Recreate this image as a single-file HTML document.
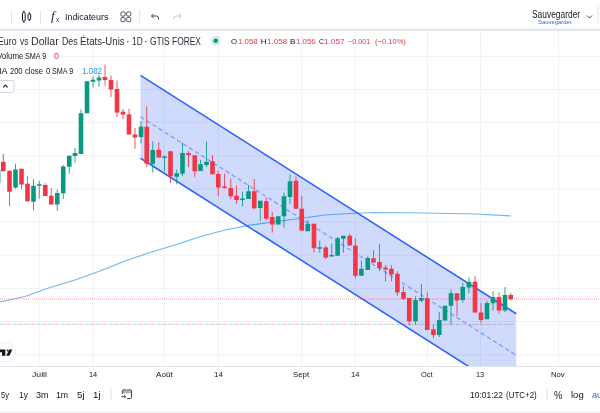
<!DOCTYPE html>
<html><head><meta charset="utf-8"><title>Chart</title>
<style>
html,body{margin:0;padding:0;background:#fff;}
body{width:600px;height:413px;overflow:hidden;position:relative;font-family:"Liberation Sans",sans-serif;color:#131722;}
.t{position:absolute;white-space:nowrap;line-height:1;}
svg{position:absolute;left:0;top:0;}
</style></head><body>
<svg width="600" height="413" viewBox="0 0 600 413">
<defs><clipPath id="cp"><rect x="0" y="31" width="600" height="335"/></clipPath></defs>
<rect x="0" y="0" width="600" height="413" fill="#fff"/>
<rect x="38.75" y="31" width="1" height="335" fill="#f1f2f4"/><rect x="92.5" y="31" width="1" height="335" fill="#f1f2f4"/><rect x="163.75" y="31" width="1" height="335" fill="#f1f2f4"/><rect x="217.75" y="31" width="1" height="335" fill="#f1f2f4"/><rect x="301.4" y="31" width="1" height="335" fill="#f1f2f4"/><rect x="354.7" y="31" width="1" height="335" fill="#f1f2f4"/><rect x="427" y="31" width="1" height="335" fill="#f1f2f4"/><rect x="480" y="31" width="1" height="335" fill="#f1f2f4"/><rect x="558" y="31" width="1" height="335" fill="#f1f2f4"/><rect x="0" y="55.80" width="600" height="1" fill="#f1f2f4"/><rect x="0" y="88.96" width="600" height="1" fill="#f1f2f4"/><rect x="0" y="122.12" width="600" height="1" fill="#f1f2f4"/><rect x="0" y="155.28" width="600" height="1" fill="#f1f2f4"/><rect x="0" y="188.44" width="600" height="1" fill="#f1f2f4"/><rect x="0" y="221.60" width="600" height="1" fill="#f1f2f4"/><rect x="0" y="254.76" width="600" height="1" fill="#f1f2f4"/><rect x="0" y="287.92" width="600" height="1" fill="#f1f2f4"/><rect x="0" y="321.08" width="600" height="1" fill="#f1f2f4"/><rect x="0" y="354.24" width="600" height="1" fill="#f1f2f4"/>
<g clip-path="url(#cp)">
<path d="M0,302 L25,296.5 L50,287.5 L75,280 L100,271 L125,261 L150,252.5 L175,245 L200,236.7 L225,230 L250,225.2 L275,221.6 L300,218.5 L325,215 L350,213.5 L375,212.5 L425,213 L475,214 L511,216" fill="none" stroke="#6ab8f5" stroke-width="1.2"/>
<polygon points="140.5,75.3 516.25,313.75095 516.25,396.70095000000003 140.5,158.25" fill="#2050f0" fill-opacity="0.21"/>
<line x1="140.5" y1="75.3" x2="516.25" y2="313.75095" stroke="#2962ff" stroke-width="1.55"/>
<line x1="140.5" y1="158.25" x2="516.25" y2="396.70095000000003" stroke="#2962ff" stroke-width="1.55"/>
<line x1="140.5" y1="116.8" x2="516.25" y2="355.25095" stroke="#2962ff" stroke-opacity="0.5" stroke-width="1.3" stroke-dasharray="4.3 2.9"/>
<line x1="0" y1="324.4" x2="514" y2="324.4" stroke="#089981" stroke-opacity="0.32" stroke-width="1" stroke-dasharray="5 7"/><line x1="6" y1="324.4" x2="514" y2="324.4" stroke="#f23645" stroke-opacity="0.32" stroke-width="1" stroke-dasharray="5 7"/>
<line x1="0" y1="299" x2="600" y2="299" stroke="#f23645" stroke-opacity="0.5" stroke-width="1" stroke-dasharray="1 1"/>
<rect x="0" y="170" width="1" height="13" fill="#089981" fill-opacity="0.4"/>
<rect x="-3.20" y="183.00" width="1" height="29.00" fill="#089981" fill-opacity="0.85"/>
<rect x="-5.00" y="186.00" width="4.6" height="13.00" fill="#089981"/>
<rect x="2.80" y="153.75" width="1" height="17.50" fill="#f23645" fill-opacity="0.85"/>
<rect x="1.00" y="161.75" width="4.6" height="9.50" fill="#f23645"/>
<rect x="9.00" y="170.75" width="1" height="35.50" fill="#f23645" fill-opacity="0.85"/>
<rect x="7.20" y="170.75" width="4.6" height="21.00" fill="#f23645"/>
<rect x="15.00" y="163.75" width="1" height="25.00" fill="#089981" fill-opacity="0.85"/>
<rect x="13.20" y="169.50" width="4.6" height="18.00" fill="#089981"/>
<rect x="21.00" y="168.75" width="1" height="20.50" fill="#f23645" fill-opacity="0.85"/>
<rect x="19.20" y="168.75" width="4.6" height="15.75" fill="#f23645"/>
<rect x="27.00" y="176.25" width="1" height="25.00" fill="#f23645" fill-opacity="0.85"/>
<rect x="25.20" y="183.75" width="4.6" height="17.50" fill="#f23645"/>
<rect x="33.00" y="179.25" width="1" height="31.25" fill="#089981" fill-opacity="0.85"/>
<rect x="31.20" y="185.75" width="4.6" height="16.00" fill="#089981"/>
<rect x="38.75" y="180.75" width="1" height="18.00" fill="#089981" fill-opacity="0.85"/>
<rect x="36.95" y="184.25" width="4.6" height="1.50" fill="#089981"/>
<rect x="44.75" y="183.25" width="1" height="12.75" fill="#f23645" fill-opacity="0.85"/>
<rect x="42.95" y="185.00" width="4.6" height="11.00" fill="#f23645"/>
<rect x="50.75" y="188.00" width="1" height="16.50" fill="#f23645" fill-opacity="0.85"/>
<rect x="48.95" y="195.75" width="4.6" height="8.75" fill="#f23645"/>
<rect x="56.75" y="189.50" width="1" height="21.25" fill="#089981" fill-opacity="0.85"/>
<rect x="54.95" y="193.00" width="4.6" height="11.50" fill="#089981"/>
<rect x="62.75" y="165.00" width="1" height="34.25" fill="#089981" fill-opacity="0.85"/>
<rect x="60.95" y="166.50" width="4.6" height="26.75" fill="#089981"/>
<rect x="68.75" y="155.75" width="1" height="18.00" fill="#089981" fill-opacity="0.85"/>
<rect x="66.95" y="155.75" width="4.6" height="11.00" fill="#089981"/>
<rect x="74.50" y="148.00" width="1" height="14.50" fill="#089981" fill-opacity="0.85"/>
<rect x="72.70" y="153.00" width="4.6" height="3.00" fill="#089981"/>
<rect x="80.50" y="109.50" width="1" height="44.50" fill="#089981" fill-opacity="0.85"/>
<rect x="78.70" y="113.25" width="4.6" height="40.75" fill="#089981"/>
<rect x="86.50" y="81.25" width="1" height="32.00" fill="#089981" fill-opacity="0.85"/>
<rect x="84.70" y="81.25" width="4.6" height="32.00" fill="#089981"/>
<rect x="92.50" y="76.25" width="1" height="11.25" fill="#089981" fill-opacity="0.85"/>
<rect x="90.70" y="79.75" width="4.6" height="2.00" fill="#089981"/>
<rect x="98.50" y="75.00" width="1" height="11.75" fill="#089981" fill-opacity="0.85"/>
<rect x="96.70" y="77.50" width="4.6" height="3.00" fill="#089981"/>
<rect x="104.50" y="64.50" width="1" height="21.25" fill="#f23645" fill-opacity="0.85"/>
<rect x="102.70" y="77.00" width="4.6" height="3.00" fill="#f23645"/>
<rect x="110.50" y="75.50" width="1" height="21.50" fill="#f23645" fill-opacity="0.85"/>
<rect x="108.70" y="80.00" width="4.6" height="9.50" fill="#f23645"/>
<rect x="116.50" y="80.50" width="1" height="36.50" fill="#f23645" fill-opacity="0.85"/>
<rect x="114.70" y="89.00" width="4.6" height="23.50" fill="#f23645"/>
<rect x="122.50" y="109.00" width="1" height="10.25" fill="#f23645" fill-opacity="0.85"/>
<rect x="120.70" y="111.75" width="4.6" height="2.75" fill="#f23645"/>
<rect x="128.50" y="108.75" width="1" height="25.75" fill="#f23645" fill-opacity="0.85"/>
<rect x="126.70" y="114.50" width="4.6" height="20.00" fill="#f23645"/>
<rect x="134.50" y="128.00" width="1" height="20.75" fill="#f23645" fill-opacity="0.85"/>
<rect x="132.70" y="134.50" width="4.6" height="3.00" fill="#f23645"/>
<rect x="140.50" y="121.00" width="1" height="22.50" fill="#089981" fill-opacity="0.85"/>
<rect x="138.70" y="126.75" width="4.6" height="10.25" fill="#089981"/>
<rect x="146.25" y="106.25" width="1" height="60.75" fill="#f23645" fill-opacity="0.85"/>
<rect x="144.45" y="126.75" width="4.6" height="37.00" fill="#f23645"/>
<rect x="152.25" y="141.25" width="1" height="31.25" fill="#089981" fill-opacity="0.85"/>
<rect x="150.45" y="150.00" width="4.6" height="13.75" fill="#089981"/>
<rect x="158.25" y="142.00" width="1" height="15.50" fill="#f23645" fill-opacity="0.85"/>
<rect x="156.45" y="149.75" width="4.6" height="7.75" fill="#f23645"/>
<rect x="164.00" y="155.50" width="1" height="15.75" fill="#089981" fill-opacity="0.85"/>
<rect x="162.20" y="156.50" width="4.6" height="1.50" fill="#089981"/>
<rect x="170.00" y="151.25" width="1" height="32.00" fill="#f23645" fill-opacity="0.85"/>
<rect x="168.20" y="151.25" width="4.6" height="25.00" fill="#f23645"/>
<rect x="176.25" y="169.50" width="1" height="14.75" fill="#089981" fill-opacity="0.85"/>
<rect x="174.45" y="173.25" width="4.6" height="3.50" fill="#089981"/>
<rect x="182.00" y="142.50" width="1" height="33.75" fill="#089981" fill-opacity="0.85"/>
<rect x="180.20" y="153.00" width="4.6" height="20.75" fill="#089981"/>
<rect x="188.00" y="150.75" width="1" height="16.25" fill="#f23645" fill-opacity="0.85"/>
<rect x="186.20" y="153.00" width="4.6" height="2.00" fill="#f23645"/>
<rect x="194.25" y="155.25" width="1" height="21.50" fill="#f23645" fill-opacity="0.85"/>
<rect x="192.45" y="155.25" width="4.6" height="16.00" fill="#f23645"/>
<rect x="200.00" y="160.00" width="1" height="11.00" fill="#089981" fill-opacity="0.85"/>
<rect x="198.20" y="164.25" width="4.6" height="6.75" fill="#089981"/>
<rect x="206.00" y="141.75" width="1" height="25.25" fill="#089981" fill-opacity="0.85"/>
<rect x="204.20" y="161.75" width="4.6" height="3.25" fill="#089981"/>
<rect x="212.00" y="155.00" width="1" height="19.25" fill="#f23645" fill-opacity="0.85"/>
<rect x="210.20" y="161.25" width="4.6" height="13.00" fill="#f23645"/>
<rect x="217.75" y="170.75" width="1" height="25.50" fill="#f23645" fill-opacity="0.85"/>
<rect x="215.95" y="174.00" width="4.6" height="13.50" fill="#f23645"/>
<rect x="224.00" y="173.75" width="1" height="15.00" fill="#f23645" fill-opacity="0.85"/>
<rect x="222.20" y="186.50" width="4.6" height="1.50" fill="#f23645"/>
<rect x="230.25" y="178.50" width="1" height="20.25" fill="#f23645" fill-opacity="0.85"/>
<rect x="228.45" y="188.00" width="4.6" height="8.25" fill="#f23645"/>
<rect x="236.00" y="185.50" width="1" height="18.25" fill="#f23645" fill-opacity="0.85"/>
<rect x="234.20" y="195.75" width="4.6" height="4.25" fill="#f23645"/>
<rect x="242.00" y="191.75" width="1" height="14.50" fill="#089981" fill-opacity="0.85"/>
<rect x="240.20" y="198.50" width="4.6" height="1.50" fill="#089981"/>
<rect x="248.00" y="185.00" width="1" height="14.00" fill="#089981" fill-opacity="0.85"/>
<rect x="246.20" y="191.25" width="4.6" height="7.75" fill="#089981"/>
<rect x="253.75" y="179.00" width="1" height="30.25" fill="#f23645" fill-opacity="0.85"/>
<rect x="251.95" y="191.25" width="4.6" height="17.00" fill="#f23645"/>
<rect x="259.75" y="200.75" width="1" height="20.50" fill="#089981" fill-opacity="0.85"/>
<rect x="257.95" y="200.75" width="4.6" height="7.25" fill="#089981"/>
<rect x="265.75" y="197.50" width="1" height="23.25" fill="#f23645" fill-opacity="0.85"/>
<rect x="263.95" y="201.25" width="4.6" height="17.50" fill="#f23645"/>
<rect x="271.75" y="211.75" width="1" height="20.75" fill="#f23645" fill-opacity="0.85"/>
<rect x="269.95" y="217.00" width="4.6" height="7.50" fill="#f23645"/>
<rect x="277.75" y="216.25" width="1" height="8.25" fill="#089981" fill-opacity="0.85"/>
<rect x="275.95" y="216.25" width="4.6" height="8.25" fill="#089981"/>
<rect x="283.50" y="192.50" width="1" height="35.00" fill="#089981" fill-opacity="0.85"/>
<rect x="281.70" y="196.25" width="4.6" height="20.00" fill="#089981"/>
<rect x="289.50" y="174.25" width="1" height="29.50" fill="#089981" fill-opacity="0.85"/>
<rect x="287.70" y="181.25" width="4.6" height="15.75" fill="#089981"/>
<rect x="295.50" y="176.25" width="1" height="32.50" fill="#f23645" fill-opacity="0.85"/>
<rect x="293.70" y="180.75" width="4.6" height="28.00" fill="#f23645"/>
<rect x="301.25" y="195.75" width="1" height="35.00" fill="#f23645" fill-opacity="0.85"/>
<rect x="299.45" y="208.75" width="4.6" height="22.00" fill="#f23645"/>
<rect x="307.25" y="220.00" width="1" height="11.25" fill="#089981" fill-opacity="0.85"/>
<rect x="305.45" y="223.75" width="4.6" height="7.50" fill="#089981"/>
<rect x="313.50" y="223.75" width="1" height="28.75" fill="#f23645" fill-opacity="0.85"/>
<rect x="311.70" y="223.75" width="4.6" height="24.50" fill="#f23645"/>
<rect x="319.25" y="240.50" width="1" height="12.50" fill="#089981" fill-opacity="0.85"/>
<rect x="317.45" y="247.25" width="4.6" height="1.50" fill="#089981"/>
<rect x="325.25" y="245.50" width="1" height="13.75" fill="#f23645" fill-opacity="0.85"/>
<rect x="323.45" y="247.50" width="4.6" height="10.00" fill="#f23645"/>
<rect x="331.25" y="243.25" width="1" height="13.25" fill="#089981" fill-opacity="0.85"/>
<rect x="329.45" y="255.00" width="4.6" height="1.50" fill="#089981"/>
<rect x="337.10" y="237.00" width="1" height="18.75" fill="#089981" fill-opacity="0.85"/>
<rect x="335.30" y="238.25" width="4.6" height="17.50" fill="#089981"/>
<rect x="342.90" y="235.75" width="1" height="16.75" fill="#089981" fill-opacity="0.85"/>
<rect x="341.10" y="235.75" width="4.6" height="3.00" fill="#089981"/>
<rect x="349.25" y="233.75" width="1" height="11.75" fill="#f23645" fill-opacity="0.85"/>
<rect x="347.45" y="235.75" width="4.6" height="9.75" fill="#f23645"/>
<rect x="354.90" y="238.00" width="1" height="40.25" fill="#f23645" fill-opacity="0.85"/>
<rect x="353.10" y="245.50" width="4.6" height="30.25" fill="#f23645"/>
<rect x="360.90" y="260.75" width="1" height="15.00" fill="#089981" fill-opacity="0.85"/>
<rect x="359.10" y="268.75" width="4.6" height="7.00" fill="#089981"/>
<rect x="367.25" y="256.25" width="1" height="13.75" fill="#089981" fill-opacity="0.85"/>
<rect x="365.45" y="258.00" width="4.6" height="12.00" fill="#089981"/>
<rect x="373.00" y="250.00" width="1" height="12.50" fill="#f23645" fill-opacity="0.85"/>
<rect x="371.20" y="258.25" width="4.6" height="4.25" fill="#f23645"/>
<rect x="379.00" y="243.75" width="1" height="27.50" fill="#f23645" fill-opacity="0.85"/>
<rect x="377.20" y="262.00" width="4.6" height="6.25" fill="#f23645"/>
<rect x="385.10" y="265.00" width="1" height="16.75" fill="#f23645" fill-opacity="0.85"/>
<rect x="383.30" y="267.50" width="4.6" height="2.00" fill="#f23645"/>
<rect x="390.90" y="265.00" width="1" height="16.25" fill="#f23645" fill-opacity="0.85"/>
<rect x="389.10" y="268.75" width="4.6" height="5.75" fill="#f23645"/>
<rect x="396.90" y="271.25" width="1" height="24.50" fill="#f23645" fill-opacity="0.85"/>
<rect x="395.10" y="273.75" width="4.6" height="18.75" fill="#f23645"/>
<rect x="403.00" y="286.00" width="1" height="14.00" fill="#f23645" fill-opacity="0.85"/>
<rect x="401.20" y="292.00" width="4.6" height="6.75" fill="#f23645"/>
<rect x="408.75" y="298.00" width="1" height="27.00" fill="#f23645" fill-opacity="0.85"/>
<rect x="406.95" y="298.00" width="4.6" height="23.25" fill="#f23645"/>
<rect x="415.00" y="296.25" width="1" height="28.25" fill="#089981" fill-opacity="0.85"/>
<rect x="413.20" y="300.00" width="4.6" height="21.25" fill="#089981"/>
<rect x="420.90" y="284.00" width="1" height="18.50" fill="#089981" fill-opacity="0.85"/>
<rect x="419.10" y="298.00" width="4.6" height="2.75" fill="#089981"/>
<rect x="426.75" y="292.25" width="1" height="37.75" fill="#f23645" fill-opacity="0.85"/>
<rect x="424.95" y="298.25" width="4.6" height="31.75" fill="#f23645"/>
<rect x="432.90" y="325.00" width="1" height="13.25" fill="#f23645" fill-opacity="0.85"/>
<rect x="431.10" y="329.25" width="4.6" height="5.75" fill="#f23645"/>
<rect x="438.75" y="312.00" width="1" height="25.00" fill="#089981" fill-opacity="0.85"/>
<rect x="436.95" y="320.00" width="4.6" height="15.00" fill="#089981"/>
<rect x="444.50" y="305.75" width="1" height="14.75" fill="#089981" fill-opacity="0.85"/>
<rect x="442.70" y="305.75" width="4.6" height="14.75" fill="#089981"/>
<rect x="450.50" y="289.50" width="1" height="35.50" fill="#089981" fill-opacity="0.85"/>
<rect x="448.70" y="293.25" width="4.6" height="12.50" fill="#089981"/>
<rect x="456.50" y="293.25" width="1" height="23.00" fill="#f23645" fill-opacity="0.85"/>
<rect x="454.70" y="293.25" width="4.6" height="7.25" fill="#f23645"/>
<rect x="462.25" y="283.00" width="1" height="19.50" fill="#089981" fill-opacity="0.85"/>
<rect x="460.45" y="287.00" width="4.6" height="13.00" fill="#089981"/>
<rect x="468.40" y="277.50" width="1" height="15.75" fill="#089981" fill-opacity="0.85"/>
<rect x="466.60" y="282.00" width="4.6" height="5.50" fill="#089981"/>
<rect x="474.50" y="275.75" width="1" height="36.75" fill="#f23645" fill-opacity="0.85"/>
<rect x="472.70" y="281.75" width="4.6" height="30.75" fill="#f23645"/>
<rect x="480.50" y="303.25" width="1" height="20.00" fill="#f23645" fill-opacity="0.85"/>
<rect x="478.70" y="312.50" width="4.6" height="7.50" fill="#f23645"/>
<rect x="486.50" y="300.75" width="1" height="18.50" fill="#089981" fill-opacity="0.85"/>
<rect x="484.70" y="303.00" width="4.6" height="16.25" fill="#089981"/>
<rect x="492.50" y="291.25" width="1" height="19.50" fill="#089981" fill-opacity="0.85"/>
<rect x="490.70" y="297.00" width="4.6" height="6.25" fill="#089981"/>
<rect x="498.50" y="292.50" width="1" height="21.25" fill="#f23645" fill-opacity="0.85"/>
<rect x="496.70" y="297.00" width="4.6" height="13.50" fill="#f23645"/>
<rect x="504.50" y="287.00" width="1" height="25.00" fill="#089981" fill-opacity="0.85"/>
<rect x="502.70" y="295.00" width="4.6" height="15.50" fill="#089981"/>
<rect x="510.25" y="293.00" width="1" height="7.50" fill="#f23645" fill-opacity="0.85"/>
<rect x="508.45" y="295.00" width="4.6" height="4.25" fill="#f23645"/>
</g>
<!-- top toolbar border -->
<rect x="0" y="28.400" width="600" height="1" fill="#eef0f5"/><rect x="0" y="29.300" width="600" height="1.600" fill="#dfe2ea"/>
<rect x="0" y="366" width="600" height="1" fill="#e0e3eb"/>
<rect x="0" y="411.700" width="600" height="1.300" fill="#eceef2"/>
<!-- toolbar separators -->
<rect x="11" y="10" width="1" height="14" fill="#e0e3eb"/>
<rect x="40" y="10" width="1" height="14" fill="#e0e3eb"/>
<rect x="139.100" y="10" width="1" height="13.500" fill="#e0e3eb"/>
<rect x="597.500" y="6" width="1" height="17" fill="#e0e3eb"/>
<!-- candle icon -->
<g fill="none" stroke="#131722" stroke-width="1">
<rect x="22.500" y="12.500" width="2.700" height="8.500" rx="0.8"/>
<line x1="23.850" y1="10.500" x2="23.850" y2="12.500"/><line x1="23.850" y1="21" x2="23.850" y2="22.800"/>
<rect x="28" y="14" width="2.700" height="5.500" rx="0.8"/>
<line x1="29.350" y1="12.300" x2="29.350" y2="14"/><line x1="29.350" y1="19.500" x2="29.350" y2="21"/>
</g>
<!-- layout icon -->
<g fill="none" stroke="#50535e" stroke-width="1">
<rect x="120.900" y="11.900" width="4.200" height="4.200" rx="1.200"/><rect x="126.600" y="11.900" width="4.200" height="4.200" rx="1.200"/>
<rect x="120.900" y="17.500" width="4.200" height="4.200" rx="1.200"/><rect x="126.600" y="17.500" width="4.200" height="4.200" rx="1.200"/>
</g>
<!-- undo / redo -->
<path d="M151.500,16 h5 a2,2 0 0 1 2,2 v1.500 M153.500,14 l-2,2 l2,2" fill="none" stroke="#434651" stroke-width="1"/>
<path d="M181,16 h-5 a2,2 0 0 0 -2,2 v1.500 M179,14 l2,2 l-2,2" fill="none" stroke="#c5c8d0" stroke-width="1"/>
<!-- chevron right top -->
<path d="M587,15.500 l2.500,2.500 l2.500,-2.500" fill="none" stroke="#434651" stroke-width="1"/>
<!-- status dot -->
<circle cx="215.700" cy="40.800" r="5" fill="#089981" fill-opacity="0.18"/>
<circle cx="215.700" cy="40.800" r="2.200" fill="#089981"/>
<!-- collapse box -->
<rect x="-2" y="80.500" width="16" height="12" rx="2" fill="#fff" stroke="#d1d4dc" stroke-width="1"/>
<path d="M3.200,87.400 l2.200,-2.400 l2.200,2.400" fill="none" stroke="#131722" stroke-width="1.100"/>
<!-- TV logo -->
<circle cx="5.600" cy="352.400" r="10" fill="#fff" stroke="#eceef3" stroke-width="1"/>
<path d="M-2,349.600 H5.400 V355.800 H2 V352.200 H-2 Z" fill="#131722"/>
<circle cx="7.700" cy="350.600" r="1" fill="#131722"/>
<polygon points="9.300,349.600 12.400,349.600 9.400,355.800 6.200,355.800" fill="#131722"/>
<!-- bottom toolbar separators -->
<rect x="110.500" y="388" width="1" height="13" fill="#e0e3eb"/>
<rect x="546.700" y="388" width="1" height="13" fill="#e0e3eb"/>
<!-- goto date icon -->
<rect x="122.300" y="391" width="9.200" height="2.300" fill="#787b86" fill-opacity="0.6"/>
<g fill="none" stroke="#434651" stroke-width="1">
<path d="M122.300,394 V391 a1,1 0 0 1 1,-1 H130.500 a1,1 0 0 1 1,1 V397.500 a1,1 0 0 1 -1,1 H127"/>
<path d="M121.300,396.700 H125.700 M124.200,395.200 l1.500,1.500 l-1.500,1.500"/>
<path d="M123.800,389.300 v1 M129.800,389.300 v1"/>
</g>
</svg>
<div class="t" id="ind" style="left:64.79px;top:12.30px;font-size:9.8px;color:#131722;transform-origin:0 0;transform:scaleX(0.9039);">Indicateurs</div>
<div class="t" id="sav" style="left:531.57px;top:9.54px;font-size:10px;color:#131722;transform-origin:0 0;transform:scaleX(0.8400);">Sauvegarder</div>
<div class="t" id="sav2" style="left:538.46px;top:18.52px;font-size:6px;color:#2962ff;transform-origin:0 0;transform:scaleX(0.9792);">Sauvegarder</div>
<div class="t" id="t1" style="left:-1.70px;top:36.73px;font-size:10px;color:#2a2e39;transform-origin:0 0;transform:scaleX(0.8789);-webkit-text-stroke:0;">Euro</div>
<div class="t" id="t2" style="left:19.95px;top:36.73px;font-size:10px;color:#2a2e39;transform-origin:0 0;transform:scaleX(0.8400);-webkit-text-stroke:0;">vs</div>
<div class="t" id="t3" style="left:30.65px;top:36.73px;font-size:10px;color:#2a2e39;transform-origin:0 0;transform:scaleX(1.0640);-webkit-text-stroke:0;">Dollar</div>
<div class="t" id="t4" style="left:61.70px;top:36.73px;font-size:10px;color:#2a2e39;transform-origin:0 0;transform:scaleX(0.8778);-webkit-text-stroke:0;">Des</div>
<div class="t" id="t5" style="left:79.63px;top:36.73px;font-size:10px;color:#2a2e39;transform-origin:0 0;transform:scaleX(0.9672);-webkit-text-stroke:0;">États-Unis</div>
<div class="t" id="t6" style="left:126.02px;top:36.73px;font-size:10px;color:#2a2e39;transform-origin:0 0;transform:scaleX(1.0800);-webkit-text-stroke:0;">·</div>
<div class="t" id="t7" style="left:131.51px;top:36.73px;font-size:10px;color:#2a2e39;transform-origin:0 0;transform:scaleX(0.8400);-webkit-text-stroke:0;">1D</div>
<div class="t" id="t8" style="left:143.82px;top:36.73px;font-size:10px;color:#2a2e39;transform-origin:0 0;transform:scaleX(1.0800);-webkit-text-stroke:0;">·</div>
<div class="t" id="t9" style="left:150.08px;top:36.73px;font-size:10px;color:#2a2e39;transform-origin:0 0;transform:scaleX(0.8432);-webkit-text-stroke:0;">GTIS</div>
<div class="t" id="t10" style="left:172.42px;top:36.73px;font-size:10px;color:#2a2e39;transform-origin:0 0;transform:scaleX(0.8400);-webkit-text-stroke:0;">FOREX</div>
<div class="t" id="oO" style="left:231.36px;top:38.23px;font-size:8px;color:#131722;transform-origin:0 0;transform:scaleX(0.9636);">O</div>
<div class="t" id="oOv" style="left:237.71px;top:38.23px;font-size:8px;color:#f23645;transform-origin:0 0;transform:scaleX(0.9780);">1.058</div>
<div class="t" id="oH" style="left:260.65px;top:38.23px;font-size:8px;color:#131722;transform-origin:0 0;transform:scaleX(1.0000);">H</div>
<div class="t" id="oHv" style="left:266.90px;top:38.23px;font-size:8px;color:#f23645;transform-origin:0 0;transform:scaleX(1.0042);">1.058</div>
<div class="t" id="oB" style="left:289.63px;top:38.23px;font-size:8px;color:#131722;transform-origin:0 0;transform:scaleX(1.0233);">B</div>
<div class="t" id="oBv" style="left:295.71px;top:38.23px;font-size:8px;color:#f23645;transform-origin:0 0;transform:scaleX(0.9806);">1.056</div>
<div class="t" id="oC" style="left:319.02px;top:38.23px;font-size:8px;color:#131722;transform-origin:0 0;transform:scaleX(0.8400);">C</div>
<div class="t" id="oCv" style="left:324.08px;top:38.23px;font-size:8px;color:#f23645;transform-origin:0 0;transform:scaleX(1.0252);">1.057</div>
<div class="t" id="oD" style="left:347.98px;top:38.23px;font-size:8px;color:#f23645;transform-origin:0 0;transform:scaleX(0.9045);">−0.001</div>
<div class="t" id="oP" style="left:374.58px;top:38.23px;font-size:8px;color:#f23645;transform-origin:0 0;transform:scaleX(0.9443);">(−0.10%)</div>
<div class="t" id="v1" style="left:-3.30px;top:52.22px;font-size:8.6px;color:#131722;transform-origin:0 0;transform:scaleX(0.9241);">Volume</div>
<div class="t" id="v2" style="left:25.42px;top:52.22px;font-size:8.6px;color:#131722;transform-origin:0 0;transform:scaleX(0.8400);">SMA 9</div>
<div class="t" id="vol0" style="left:54.38px;top:52.22px;font-size:8.6px;color:#f23645;transform-origin:0 0;transform:scaleX(1.0602);">0</div>
<div class="t" id="m1" style="left:-6.23px;top:67.32px;font-size:8.6px;color:#131722;transform-origin:0 0;transform:scaleX(1.0480);">MA</div>
<div class="t" id="m2" style="left:9.75px;top:67.32px;font-size:8.6px;color:#131722;transform-origin:0 0;transform:scaleX(0.8740);">200</div>
<div class="t" id="m3" style="left:24.99px;top:67.32px;font-size:8.6px;color:#131722;transform-origin:0 0;transform:scaleX(0.8920);">close</div>
<div class="t" id="m4" style="left:45.64px;top:67.32px;font-size:8.6px;color:#131722;transform-origin:0 0;transform:scaleX(0.8675);">0</div>
<div class="t" id="m5" style="left:52.02px;top:67.32px;font-size:8.6px;color:#131722;transform-origin:0 0;transform:scaleX(0.8400);">SMA 9</div>
<div class="t" id="mav" style="left:81.59px;top:67.32px;font-size:8.6px;color:#2196f3;transform-origin:0 0;transform:scaleX(0.9322);">1.082</div>
<div class="t" id="juill" style="left:31.79px;top:371.33px;font-size:8px;color:#131722;transform-origin:0 0;transform:scaleX(1.0800);">Juill</div>
<div class="t" id="d14a" style="left:88.94px;top:371.33px;font-size:8px;color:#131722;transform-origin:0 0;transform:scaleX(0.9260);">14</div>
<div class="t" id="aout" style="left:156.25px;top:371.33px;font-size:8px;color:#131722;transform-origin:0 0;transform:scaleX(1.0192);">Août</div>
<div class="t" id="d14b" style="left:213.91px;top:371.33px;font-size:8px;color:#131722;transform-origin:0 0;transform:scaleX(0.9877);">14</div>
<div class="t" id="sept" style="left:293.41px;top:371.33px;font-size:8px;color:#131722;transform-origin:0 0;transform:scaleX(0.9792);">Sept</div>
<div class="t" id="d14c" style="left:351.18px;top:371.33px;font-size:8px;color:#131722;transform-origin:0 0;transform:scaleX(0.9569);">14</div>
<div class="t" id="oct" style="left:420.92px;top:371.33px;font-size:8px;color:#131722;transform-origin:0 0;transform:scaleX(0.9319);">Oct</div>
<div class="t" id="d13" style="left:476.45px;top:371.33px;font-size:8px;color:#131722;transform-origin:0 0;transform:scaleX(0.9120);">13</div>
<div class="t" id="nov" style="left:551.38px;top:371.33px;font-size:8px;color:#131722;transform-origin:0 0;transform:scaleX(0.9575);">Nov</div>
<div class="t" id="b5y" style="left:1.01px;top:390.98px;font-size:9px;color:#131722;transform-origin:0 0;transform:scaleX(0.8400);">5y</div>
<div class="t" id="b1y" style="left:18.70px;top:390.98px;font-size:9px;color:#131722;transform-origin:0 0;transform:scaleX(0.9260);">1y</div>
<div class="t" id="b3m" style="left:35.95px;top:390.98px;font-size:9px;color:#131722;transform-origin:0 0;transform:scaleX(1.0081);">3m</div>
<div class="t" id="b1m" style="left:56.37px;top:390.98px;font-size:9px;color:#131722;transform-origin:0 0;transform:scaleX(0.9730);">1m</div>
<div class="t" id="b5j" style="left:77.23px;top:390.98px;font-size:9px;color:#131722;transform-origin:0 0;transform:scaleX(1.0800);">5j</div>
<div class="t" id="b1j" style="left:93.44px;top:390.98px;font-size:9px;color:#131722;transform-origin:0 0;transform:scaleX(1.0800);">1j</div>
<div class="t" id="clk" style="left:469.99px;top:390.98px;font-size:9px;color:#131722;transform-origin:0 0;transform:scaleX(0.9418);">10:01:22</div>
<div class="t" id="clk2" style="left:506.01px;top:390.98px;font-size:9px;color:#131722;transform-origin:0 0;transform:scaleX(0.8855);">(UTC+2)</div>
<div class="t" id="pct" style="left:554.49px;top:390.31px;font-size:10.5px;color:#131722;transform-origin:0 0;transform:scaleX(0.8902);">%</div>
<div class="t" id="log" style="left:571.11px;top:390.98px;font-size:9px;color:#131722;transform-origin:0 0;transform:scaleX(1.0594);">log</div>
<div class="t" id="auto" style="left:591.65px;top:390.98px;font-size:9px;color:#2962ff;transform-origin:0 0;transform:scaleX(1.0112);">auto</div>
<div class="t" style="left:51.3px;top:9.9px;font-size:12px;font-family:'Liberation Serif',serif;font-style:italic;color:#2a2e39;-webkit-text-stroke:0;transform:scaleX(1.15);transform-origin:0 0;">f</div>
<div class="t" style="left:56px;top:16.6px;font-size:6.5px;color:#2a2e39;-webkit-text-stroke:0;">x</div>
</body></html>
